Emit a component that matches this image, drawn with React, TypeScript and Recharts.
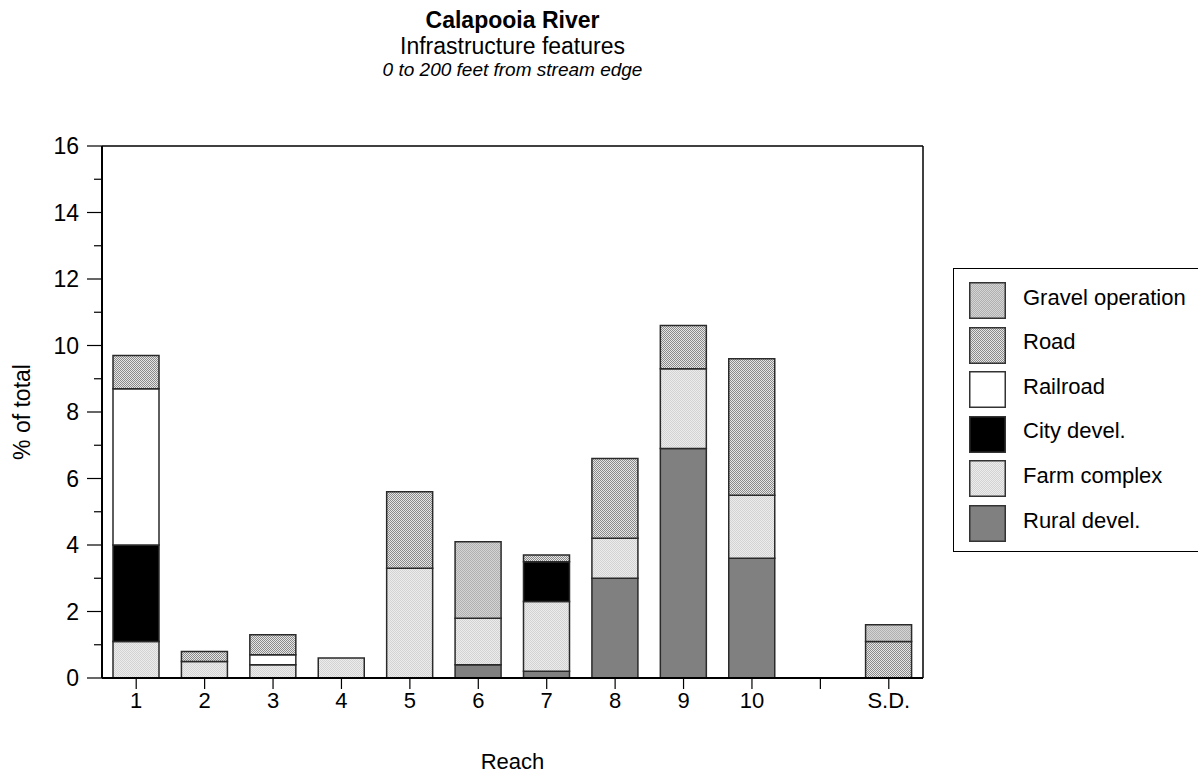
import React from 'react';
import { BarChart, Bar, XAxis, YAxis, Legend } from 'recharts';

const reaches = ['1', '2', '3', '4', '5', '6', '7', '8', '9', '10', '', 'S.D.'];
const rural = [0, 0, 0, 0, 0, 0.4, 0.2, 3.0, 6.9, 3.6, 0, 0];
const farm = [1.1, 0.5, 0.4, 0.6, 3.3, 1.4, 2.1, 1.2, 2.4, 1.9, 0, 0];
const city = [2.9, 0, 0, 0, 0, 0, 1.2, 0, 0, 0, 0, 0];
const railroad = [4.7, 0, 0.3, 0, 0, 0, 0, 0, 0, 0, 0, 0];
const road = [1.0, 0.3, 0.6, 0, 2.3, 0, 0.2, 2.4, 1.3, 4.1, 0, 1.1];
const gravel = [0, 0, 0, 0, 0, 2.3, 0, 0, 0, 0, 0, 0.5];
const yTicks = [0, 1, 2, 3, 4, 5, 6, 7, 8, 9, 10, 11, 12, 13, 14, 15, 16];

const series = [
  { key: 'rural', name: 'Rural devel.', fill: '#808080' },
  { key: 'farm', name: 'Farm complex', fill: 'url(#patFarm)' },
  { key: 'city', name: 'City devel.', fill: '#000000' },
  { key: 'railroad', name: 'Railroad', fill: '#ffffff' },
  { key: 'road', name: 'Road', fill: 'url(#patRoad)' },
  { key: 'gravel', name: 'Gravel operation', fill: 'url(#patGravel)' },
];

const data = reaches.map((r, i) => ({
  reach: r,
  rural: rural[i],
  farm: farm[i],
  city: city[i],
  railroad: railroad[i],
  road: road[i],
  gravel: gravel[i],
}));

const FONT = '"Liberation Sans", Arial, Helvetica, sans-serif';

const YTick = (props: any) => {
  const { x, y, payload } = props;
  const v = payload.value;
  const major = v % 2 === 0;
  return (
    <g>
      <line x1={x - (major ? 15 : 8)} x2={x} y1={y} y2={y} stroke="#000" strokeWidth={1.2} />
      {major && (
        <text x={x - 23} y={y} textAnchor="end" dominantBaseline="central" fontSize={23} fontFamily={FONT} fill="#000">
          {v}
        </text>
      )}
    </g>
  );
};

const LegendBox = () => {
  const items = [...series].reverse();
  return (
    <div
      style={{
        width: 260,
        height: 284,
        border: '1.5px solid #000',
        boxSizing: 'border-box',
        background: '#fff',
        position: 'relative',
        fontFamily: FONT,
      }}
    >
      {items.map((s, i) => (
        <div key={s.key} style={{ position: 'absolute', left: 15, top: 13 + i * 44.6, height: 37, display: 'flex', alignItems: 'center' }}>
          <svg width={37} height={37} style={{ display: 'block' }}>
            <rect x={0.75} y={0.75} width={35.5} height={35.5} fill={s.fill} stroke="#333" strokeWidth={1.5} />
          </svg>
          <span style={{ marginLeft: 17, fontSize: 22, color: '#000', whiteSpace: 'nowrap', position: 'relative', top: -3 }}>{s.name}</span>
        </div>
      ))}
    </div>
  );
};

export default function App() {
  return (
    <div style={{ position: 'absolute', left: 0, top: 0, width: 1198, height: 774, overflow: 'hidden', background: '#fff', fontFamily: FONT }}>
      <BarChart
        width={1198}
        height={774}
        data={data}
        margin={{ top: 144, right: 273, bottom: 56, left: 42 }}
        barSize={46}
        style={{ position: 'absolute', left: 0, top: 0 }}
      >
        <defs>
          <pattern id="patRoad" patternUnits="userSpaceOnUse" width={2} height={2}>
            <rect x={0} y={0} width={2} height={2} fill="#e6e6e6" />
            <rect x={0} y={0} width={1} height={1} fill="#8a8a8a" />
            <rect x={1} y={1} width={1} height={1} fill="#8a8a8a" />
          </pattern>
          <pattern id="patGravel" patternUnits="userSpaceOnUse" width={2} height={2}>
            <rect x={0} y={0} width={2} height={2} fill="#d4d4d4" />
            <rect x={0} y={0} width={1} height={1} fill="#b0b0b0" />
            <rect x={1} y={1} width={1} height={1} fill="#b0b0b0" />
          </pattern>
          <pattern id="patFarm" patternUnits="userSpaceOnUse" width={2} height={2}>
            <rect x={0} y={0} width={2} height={2} fill="#ececec" />
            <rect x={0} y={0} width={1} height={1} fill="#d3d3d3" />
            <rect x={1} y={1} width={1} height={1} fill="#d3d3d3" />
          </pattern>
        </defs>
        <XAxis
          dataKey="reach"
          type="category"
          height={40}
          interval={0}
          tickSize={11}
          tickMargin={3}
          tickLine={{ stroke: '#000', strokeWidth: 1.2 }}
          axisLine={{ stroke: '#000', strokeWidth: 2 }}
          tick={{ fontSize: 22, fill: '#000', fontFamily: FONT }}
        />
        <XAxis
          xAxisId="top"
          orientation="top"
          dataKey="reach"
          height={2}
          tick={false}
          tickLine={false}
          axisLine={{ stroke: '#000', strokeWidth: 1.5 }}
        />
        <YAxis
          width={60}
          domain={[0, 16]}
          ticks={yTicks}
          interval={0}
          tickSize={0}
          tickMargin={0}
          tickLine={false}
          axisLine={{ stroke: '#000', strokeWidth: 2 }}
          tick={<YTick />}
        />
        <YAxis
          yAxisId="right"
          orientation="right"
          width={2}
          domain={[0, 16]}
          tick={false}
          tickLine={false}
          axisLine={{ stroke: '#000', strokeWidth: 1.5 }}
        />
        <Legend
          layout="horizontal"
          verticalAlign="middle"
          align="center"
          content={() => <LegendBox />}
          wrapperStyle={{ left: 953, top: 268, width: 260, height: 284 }}
        />
        {series.map((s) => (
          <Bar
            key={s.key}
            dataKey={s.key}
            name={s.name}
            stackId="a"
            fill={s.fill}
            stroke="#2a2a2a"
            strokeWidth={1.5}
            isAnimationActive={false}
          />
        ))}
      </BarChart>
      <div style={{ position: 'absolute', left: 0, width: 1025, top: 7, textAlign: 'center', fontSize: 23, fontWeight: 'bold', lineHeight: '26px' }}>
        Calapooia River
      </div>
      <div style={{ position: 'absolute', left: 0, width: 1025, top: 33, textAlign: 'center', fontSize: 23, lineHeight: '26px' }}>
        Infrastructure features
      </div>
      <div style={{ position: 'absolute', left: 0, width: 1025, top: 59, textAlign: 'center', fontSize: 19, fontStyle: 'italic', lineHeight: '22px' }}>
        0 to 200 feet from stream edge
      </div>
      <div
        style={{
          position: 'absolute',
          left: 22,
          top: 412,
          transform: 'translate(-50%, -50%) rotate(-90deg)',
          whiteSpace: 'nowrap',
          fontSize: 23,
        }}
      >
        % of total
      </div>
      <div style={{ position: 'absolute', left: 0, width: 1025, top: 752, textAlign: 'center', fontSize: 22, lineHeight: '20px' }}>
        Reach
      </div>
    </div>
  );
}
